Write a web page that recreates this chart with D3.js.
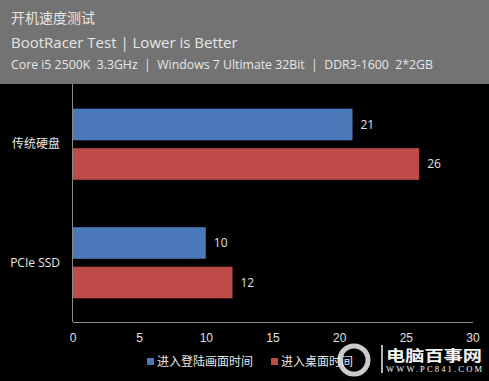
<!DOCTYPE html>
<html><head><meta charset="utf-8">
<script src="https://cdn.jsdelivr.net/npm/d3@7"></script>
<style>
html,body{margin:0;padding:0;background:#000;}
svg{display:block;font-family:"Open Sans","Noto Sans","Noto Sans CJK SC",sans-serif;}
</style></head>
<body><svg id="c" width="489" height="381"></svg>
<script>
const categories = ["传统硬盘", "PCIe SSD"];
const seriesNames = ["进入登陆画面时间", "进入桌面时间"];
const loginTimes = [21, 10];
const desktopTimes = [26, 12];
const xTicks = [0, 5, 10, 15, 20, 25, 30];
const titleLines = ["开机速度测试", "BootRacer Test | Lower is Better", "Core i5 2500K  3.3GHz  |  Windows 7 Ultimate 32Bit  |  DDR3-1600  2*2GB"];
const colors = ["#4A78B9", "#BD4B48"];

const svg = d3.select("#c");
const W = 489, H = 381;
svg.append("rect").attr("width", W).attr("height", H).attr("fill", "#000");

// header
svg.append("rect").attr("x", 0).attr("y", 0).attr("width", W).attr("height", 84).attr("fill", "#737373");
svg.append("text").attr("x", 11).attr("y", 23).attr("fill", "#e6e6e6").attr("font-size", 14).text(titleLines[0]);
svg.append("text").attr("x", 11).attr("y", 48).attr("fill", "#e6e6e6").attr("font-size", 15).text(titleLines[1]);
svg.append("text").attr("x", 11).attr("y", 69).attr("fill", "#e6e6e6").attr("font-size", 12.3).attr("xml:space","preserve").text(titleLines[2]);

const x = d3.scaleLinear().domain([0, 30]).range([72.5, 472.5]);
const y0 = d3.scaleBand().domain(categories).range([85, 322]).paddingInner(0.4).paddingOuter(0.2);
const y1 = d3.scaleBand().domain(seriesNames).range([0, y0.bandwidth()]).paddingInner(0.2);

const data = categories.map((c, i) => ({cat: c, vals: [loginTimes[i], desktopTimes[i]]}));

const g = svg.append("g");
const grp = g.selectAll("g.cat").data(data).join("g").attr("transform", d => `translate(0,${y0(d.cat)})`);
grp.selectAll("rect").data(d => d.vals.map((v, j) => ({s: seriesNames[j], v, j})))
  .join("rect")
  .attr("x", x(0)).attr("y", d => y1(d.s))
  .attr("width", d => x(d.v) - x(0)).attr("height", y1.bandwidth())
  .attr("fill", d => colors[d.j]);
grp.selectAll("text.val").data(d => d.vals.map((v, j) => ({s: seriesNames[j], v, j})))
  .join("text").attr("class", "val")
  .attr("x", d => x(d.v) + 8).attr("y", d => y1(d.s) + y1.bandwidth() / 2)
  .attr("dy", "0.35em").attr("fill", "#e0e0e0").attr("font-size", 12).text(d => d.v);

// category labels
svg.selectAll("text.cat").data(categories).join("text").attr("class", "cat")
  .attr("x", 60).attr("y", d => y0(d) + y0.bandwidth() / 2).attr("dy", "0.35em")
  .attr("text-anchor", "end").attr("fill", "#e6e6e6").attr("font-size", 12).text(d => d);

// axes
const xAxis = d3.axisBottom(x).tickValues(xTicks).tickSize(0).tickPadding(11);
const ax = svg.append("g").attr("transform", "translate(0,322)").call(xAxis);
ax.select(".domain").attr("stroke", "#8a8a8a");
ax.selectAll("text").attr("fill", "#e0e0e0").attr("font-size", 12).attr("font-family", null);
svg.append("line").attr("x1", x(0)).attr("x2", x(0)).attr("y1", 84).attr("y2", 322).attr("stroke", "#8a8a8a");

// legend
const legX = [147, 271];
const leg = svg.selectAll("g.leg").data(seriesNames).join("g").attr("class", "leg")
  .attr("transform", (d, i) => `translate(${legX[i]},362)`);
leg.append("rect").attr("x", 0).attr("y", -4).attr("width", 7).attr("height", 7).attr("fill", (d, i) => colors[i]);
leg.append("text").attr("x", 10).attr("y", 0).attr("dy", "0.35em").attr("fill", "#e6e6e6").attr("font-size", 12).text(d => d);

// watermark
const wm = svg.append("g");
wm.append("circle").attr("cx", 354).attr("cy", 360).attr("r", 14).attr("fill", "none").attr("stroke", "#eee").attr("stroke-width", 5).attr("opacity", 0.85);
wm.append("line").attr("x1", 382).attr("x2", 382).attr("y1", 345).attr("y2", 373).attr("stroke", "#eee").attr("stroke-width", 1.5);
wm.append("text").attr("x", 386).attr("y", 361).attr("fill", "#f2f2f2").attr("font-size", 15).attr("font-weight", "bold").attr("font-family", "Noto Sans CJK SC").attr("textLength", 96).attr("lengthAdjust", "spacingAndGlyphs").text("电脑百事网");
wm.append("text").attr("x", 386).attr("y", 372).attr("fill", "#f2f2f2").attr("font-size", 8.5).attr("font-family", "Liberation Serif").attr("textLength", 96).text("WWW.PC841.COM");
</script></body></html>
